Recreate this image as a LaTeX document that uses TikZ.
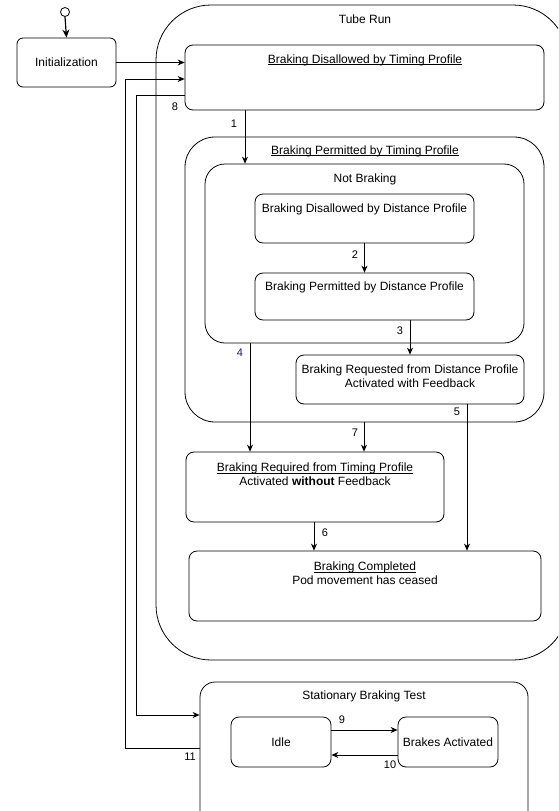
\documentclass[tikz,border=0pt]{standalone}
\usepackage{fontspec}
\setmainfont{Liberation Sans}
\newcommand\myul[1]{\leavevmode\setbox0=\hbox{#1}\rlap{\rule[-1.8pt]{\wd0}{0.5pt}}\box0}
\usetikzlibrary{arrows.meta}
\definecolor{numblue}{RGB}{25,25,112}
\begin{document}
\begin{tikzpicture}[x=1pt,y=-1pt,
  box/.style={draw, line width=0.8pt, fill=white, rounded corners=#1, inner sep=0pt, font=\fontsize{12}{14}\selectfont, align=center},
  box/.default=7pt,
  txt/.style={font=\fontsize{12}{14}\selectfont, inner sep=0pt, align=center},
  num/.style={font=\fontsize{11}{13}\selectfont, inner sep=0pt},
  link/.style={line width=0.8pt},
  arr/.style={line width=0.8pt, -{Stealth[length=7pt,width=6pt]}}]
\useasboundingbox (0,0) rectangle (558,811);
\clip (0,0) rectangle (558,811);
\fill[white] (0,0) rectangle (558,811);

% containers
\node[box=55pt, minimum width=412pt, minimum height=655pt] (tube) at (362,332.5) {};
\node[txt] (tubet) at (365,19) {Tube Run};

\node[box=8pt, minimum width=359pt, minimum height=65pt] (bdt) at (364.5,77.5) {};
\node[txt] (bdtt) at (365,60) {\myul{Braking Disallowed by Timing Profile}};

\node[box=30pt, minimum width=359pt, minimum height=285pt] (bpt) at (364.5,279.5) {};
\node[txt] (bptt) at (365,151) {\myul{Braking Permitted by Timing Profile}};

\node[box=20pt, minimum width=319pt, minimum height=179pt] (nb) at (364.5,253.5) {};
\node[txt] (nbt) at (365,179) {Not Braking};

\node[box=8pt, minimum width=219pt, minimum height=49pt] (bdd) at (364.5,218.5) {};
\node[txt] (bddt) at (364.5,209) {Braking Disallowed by Distance Profile};

\node[box=8pt, minimum width=219pt, minimum height=47pt] (bpd) at (364.5,296.5) {};
\node[txt] (bpdt) at (364.5,287) {Braking Permitted by Distance Profile};

\node[box=8pt, minimum width=228pt, minimum height=49pt] (brd) at (410,379.5) {};
\node[txt] (brdt) at (410,376) {Braking Requested from Distance Profile\\Activated with Feedback};

\node[box=8pt, minimum width=258pt, minimum height=70pt] (brt) at (315,487) {};
\node[txt] (brtt) at (315,474) {\myul{Braking Required from Timing Profile}\\Activated \textbf{without} Feedback};

\node[box=8pt, minimum width=352pt, minimum height=70pt] (bc) at (365,586) {};
\node[txt] (bct) at (365,573.5) {\myul{Braking Completed}\\Pod movement has ceased};

% initial
\node[draw, circle, line width=0.8pt, fill=white, minimum size=9pt, inner sep=0pt] (start) at (65,12) {};
\node[box=6pt, minimum width=99pt, minimum height=49pt] (init) at (66.5,62.5) {Initialization};

% stationary braking test
\node[box=15pt, minimum width=328pt, minimum height=148pt] (sbt) at (364,756) {};
\node[txt] (sbtt) at (364,696) {Stationary Braking Test};
\node[box=8pt, minimum width=100pt, minimum height=50pt] (idle) at (281,742) {Idle};
\node[box=8pt, minimum width=100pt, minimum height=50pt] (ba) at (448,742) {Brakes Activated};

% connectors
\draw[line width=1.2pt, -{Stealth[length=8pt,width=7pt]}] (start.south) -- (init.north);
\draw[arr] (init.east) -- (init.east -| bdt.west);
\draw[arr] (sbt.west |- 0,748) -- (125,748) -- (125,79) -- (bdt.west |- 0,79);
\draw[arr] (bdt.west |- 0,95) -- (136,95) -- (136,715) -- (sbt.west |- 0,715);
\draw[arr] (bdt.south -| 245,0) -- (nb.north -| 245,0);
\draw[arr] (bdd.south) -- (bpd.north);
\draw[arr] (bpd.south -| 410,0) -- (brd.north);
\draw[arr] (nb.south -| 250,0) -- (brt.north -| 250,0);
\draw[arr] (bpt.south -| 364,0) -- (brt.north -| 364,0);
\draw[arr] (brd.south -| 467,0) -- (bc.north -| 467,0);
\draw[arr] (brt.south -| 314,0) -- (bc.north -| 314,0);
\draw[arr] (idle.east |- 0,730) -- (ba.west |- 0,730);
\draw[arr] (ba.west |- 0,755) -- (idle.east |- 0,755);

% labels
\node[num] (l8) at (175,107) {8};
\node[num] (l1) at (234,124) {1};
\node[num] (l2) at (355,255) {2};
\node[num] (l3) at (400,331) {3};
\node[num, text=numblue] (l4) at (240,353) {4};
\node[num] (l5) at (457,412) {5};
\node[num] (l7) at (355,433) {7};
\node[num] (l6) at (325,533) {6};
\node[num] (l9) at (342,720) {9};
\node[num] (l10) at (390,765) {10};
\node[num] (l11) at (190,757) {11};
\end{tikzpicture}
\end{document}
